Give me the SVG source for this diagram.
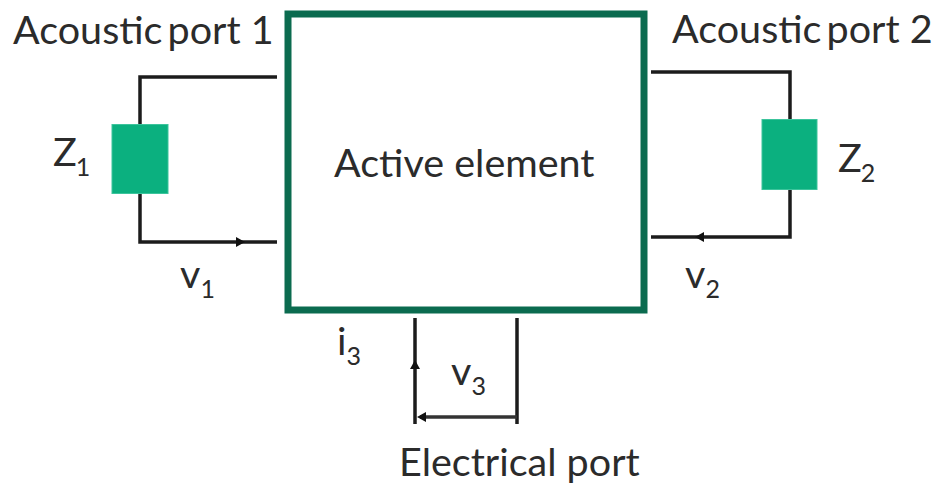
<svg xmlns="http://www.w3.org/2000/svg" width="940" height="484" viewBox="0 0 940 484">
<defs>
<style>
text{font-family:"Lato","Open Sans","Liberation Sans",sans-serif;fill:#2b2b2b;font-size:39.500px}
.sub{font-size:25px}
.wire{fill:none;stroke:#1c1c1c;stroke-width:3.5}
.thin{fill:none;stroke:#333;stroke-width:3.500}
.imp{fill:#0bb07f;stroke:#3cc49c;stroke-width:1}
.arrow{fill:#111}
</style>
</defs>
<rect width="940" height="484" fill="#fff"/>
<g id="connectors">
<path class="wire" d="M277 77H140V124M140 194V242H277"/>
<path class="wire" d="M651 72H790V119M790 190V237H651"/>
<path class="wire" d="M415 318V424M517 318V424"/>
<path class="thin" d="M420 417H517"/>
<polygon class="arrow" points="245,242 236,237 236,247"/>
<polygon class="arrow" points="695,237 704,232 704,242"/>
<polygon class="arrow" points="415,360 410,369 420,369"/>
<polygon class="arrow" points="417,417 426,412 426,422"/>
</g>
<g id="active-element">
<rect x="288" y="14" width="356" height="296" fill="#fff" stroke="#0b6b4f" stroke-width="7"/>
<text x="334" y="177">Active element</text>
</g>
<g id="z1">
<rect class="imp" x="112" y="124.500" width="56" height="69"/>
<text x="53" y="166">Z<tspan class="sub" dy="10" dx="-1">1</tspan></text>
</g>
<g id="z2">
<rect class="imp" x="762" y="119.500" width="55" height="70"/>
<text x="838" y="172">Z<tspan class="sub" dy="10" dx="-1">2</tspan></text>
</g>
<g id="port-1"><text x="13" y="44">Acoustic<tspan dx="-5"> port 1</tspan></text></g>
<g id="port-2"><text x="672" y="43">Acoustic<tspan dx="-5"> port 2</tspan></text></g>
<g id="port-3"><text x="399" y="476">Electrical port</text></g>
<g id="v1"><text x="180" y="288">v<tspan class="sub" dy="10">1</tspan></text></g>
<g id="v2"><text x="685" y="288">v<tspan class="sub" dy="10">2</tspan></text></g>
<g id="v3"><text x="451" y="385">v<tspan class="sub" dy="10">3</tspan></text></g>
<g id="i3"><text x="337" y="355">i<tspan class="sub" dy="10">3</tspan></text></g>
</svg>
